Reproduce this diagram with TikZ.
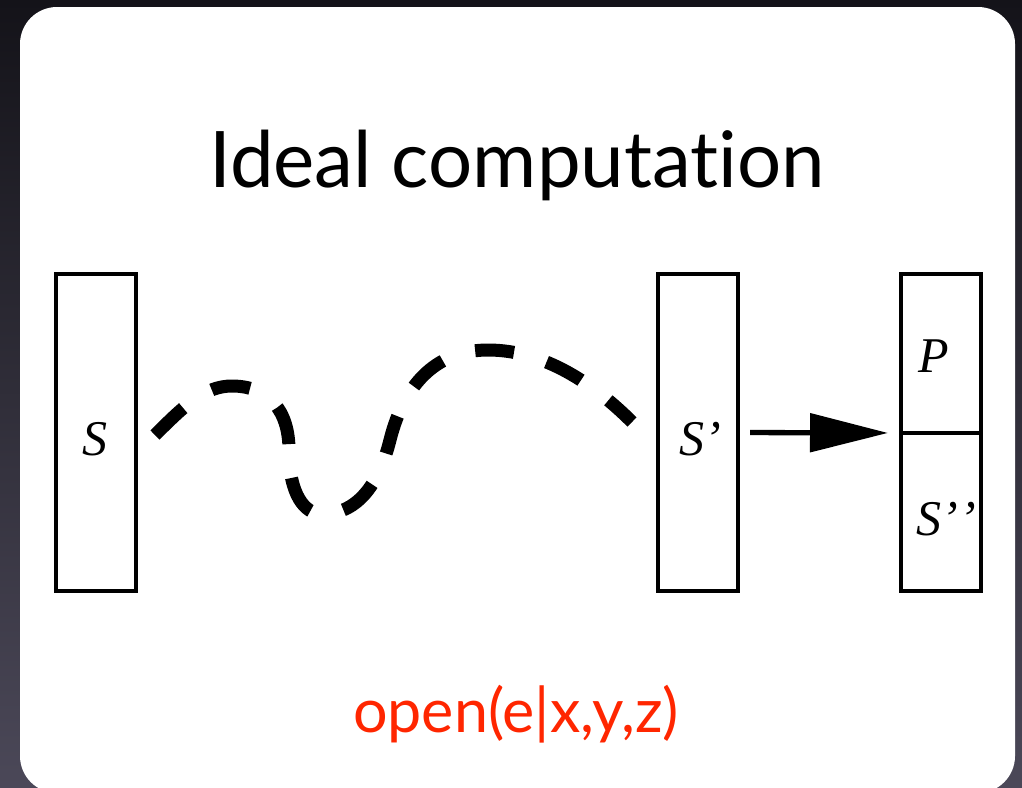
\documentclass[tikz,border=0pt]{standalone}
\usepackage{fontspec}
\setmainfont{Liberation Serif}[Ligatures=NoCommon]
\newfontfamily\titlefont{Lato}[Ligatures=NoCommon]
\usetikzlibrary{arrows.meta}
\definecolor{bgtop}{HTML}{141319}
\definecolor{bgbot}{HTML}{4B4858}
\definecolor{openred}{HTML}{FF2600}
\begin{document}
\begin{tikzpicture}[x=1pt,y=-1pt,
  box/.style={draw=black, line width=3.5pt, minimum width=80pt, inner sep=0pt, outer sep=0pt},
  lab/.style={font=\itshape\fontsize{50}{50}\selectfont, anchor=base, inner sep=0pt},
  wave/.style={line width=13pt, dash pattern=on 39pt off 34pt},
  arr/.style={line width=5.3pt, -{Triangle[length=78pt,width=38pt]}}]
\useasboundingbox (0,0) rectangle (1022,787);
\clip (0,0) rectangle (1022,787);
\shade[top color=bgtop, bottom color=bgbot] (0,0) rectangle (1022,787);
\fill[white, rounded corners=37pt] (20,7) rectangle (1015,793);

\node[anchor=base, inner sep=0pt, font=\titlefont\fontsize{78}{82}\selectfont] (title) at (517,187) {Ideal computation};

\node[box, minimum height=317pt] (S) at (96,432.5) {};
\node[box, minimum height=317pt] (Sp) at (698,432.5) {};
\node[box, minimum height=159pt] (P) at (941,353.5) {};
\node[box, minimum height=158pt] (Spp) at (941,512) {};

\node[lab] (lS) at (95,455) {S};
\node[lab] (lSp) at (700,455) {S’};
\node[lab] (lP) at (934,372) {P};
\node[lab] (lSpp) at (946,535) {S’\kern1pt’};

\coordinate (w0) at (155,435);
\coordinate (w1) at (232,386);
\coordinate (w2) at (289,450);
\coordinate (w3) at (322,514);
\coordinate (w4) at (390,440);
\coordinate (w5) at (488,350);
\coordinate (w6) at (632,422);
\draw[wave] (w0) .. controls (185,405) and (205,386) .. (w1)
  .. controls (268,386) and (289,410) .. (w2)
  .. controls (289,495) and (305,514) .. (w3)
  .. controls (360,514) and (380,480) .. (w4)
  .. controls (405,380) and (440,350) .. (w5)
  .. controls (545,350) and (595,385) .. (w6);

\draw[arr, shorten <=12pt, shorten >=13pt] (Sp.east) -- (P.south west);

\node[anchor=base, inner sep=0pt, text=openred, font=\titlefont\fontsize{61}{64}\selectfont] (open) at (516,732) {open(e|x,y,z)};
\end{tikzpicture}
\end{document}
